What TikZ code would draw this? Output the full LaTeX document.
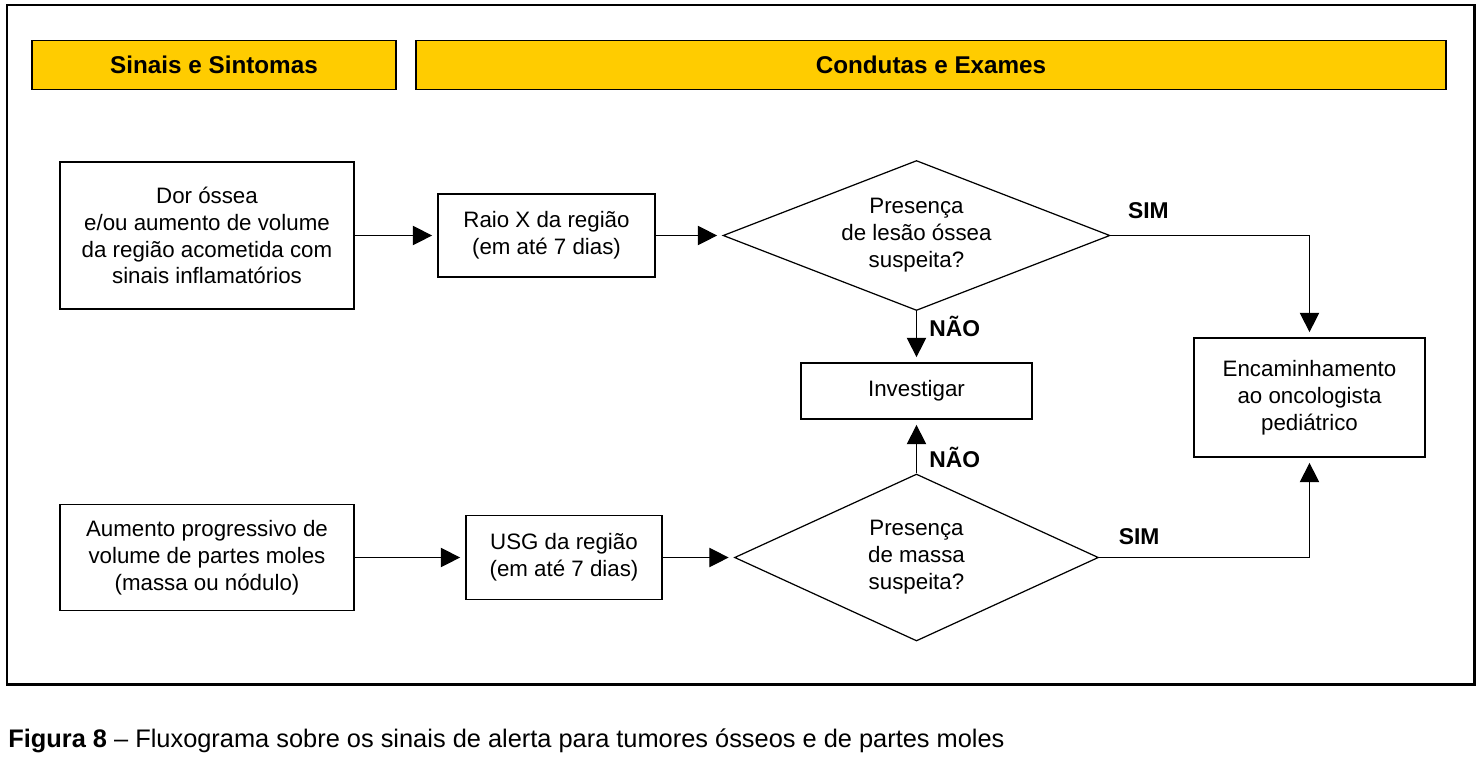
\documentclass[tikz,border=0pt]{standalone}
\usepackage{fontspec}
\setmainfont{Liberation Sans}
\usetikzlibrary{shapes.geometric,arrows.meta}
\definecolor{headyellow}{HTML}{FFCC00}
\tikzset{every node/.style={font=\fontsize{12.7}{15.3}\selectfont, align=center},
    headbox/.style={draw, fill=headyellow, line width=0.7pt, inner sep=0pt,
        minimum height=0.98cm, font=\bfseries\fontsize{13.8}{16}\selectfont},
    procbox/.style={draw, line width=0.7pt, inner sep=0pt},
    decision/.style={draw, diamond, line width=0.7pt, inner sep=0pt},
    flow/.style={line width=0.7pt, -{Triangle[length=11pt,width=11pt]}, shorten >=3pt},
    answer/.style={font=\bfseries\fontsize{13}{15}\selectfont, inner sep=1pt},
    x=0.02cm, y=-0.02cm}

\begin{document}
\begin{tikzpicture}
\useasboundingbox (0,0) rectangle (1482,765);
\draw[line width=1.7pt] (7,5) rectangle (1474,684);
% headers
\node[headbox, minimum width=7.28cm] (sinais) at (214,65) {Sinais e Sintomas};
\node[headbox, minimum width=20.6cm] (condutas) at (931,65) {Condutas e Exames};
% upper row
\node[procbox, minimum width=5.88cm, minimum height=2.94cm] (dor) at (207,235.5)
    {Dor óssea\\e/ou aumento de volume\\da região acometida com\\sinais inflamatórios};
\node[procbox, minimum width=4.34cm, minimum height=1.66cm] (raio) at (546.5,235.5)
    {Raio X da região\\(em até 7 dias)};
\node[decision, aspect=2.58, minimum width=7.74cm, minimum height=3cm] (lesao) at (916.5,235.5)
    {Presença\\de lesão óssea\\suspeita?};
% middle
\node[procbox, minimum width=4.62cm, minimum height=1.12cm] (invest) at (916.5,391) {Investigar};
\node[procbox, minimum width=4.62cm, minimum height=2.38cm] (encam) at (1309.5,397.5)
    {Encaminhamento\\ao oncologista\\pediátrico};
% lower row
\node[procbox, minimum width=5.88cm, minimum height=2.12cm] (aumento) at (207,557.5)
    {Aumento progressivo de\\volume de partes moles\\(massa ou nódulo)};
\node[procbox, minimum width=3.92cm, minimum height=1.68cm] (usg) at (564,557.5)
    {USG da região\\(em até 7 dias)};
\node[decision, aspect=2.18, minimum width=7.28cm, minimum height=3.34cm] (massa) at (916.5,557.5)
    {Presença\\de massa\\suspeita?};
% connectors
\draw[flow] (dor) -- (raio);
\draw[flow] (raio) -- (lesao);
\draw[flow] (lesao.south) -- node[answer, anchor=west, pos=0.3, xshift=6pt] {NÃO} (invest.north);
\draw[flow] (lesao.east) -| node[answer, anchor=south, pos=0.095, yshift=8pt] {SIM} (encam.north);
\draw[flow] (aumento) -- (usg);
\draw[flow] (usg) -- (massa);
\draw[flow] (massa.north) -- node[answer, anchor=west, pos=0.3, xshift=6pt] {NÃO} (invest.south);
\draw[flow] (massa.east) -| node[answer, anchor=south, pos=0.095, yshift=6pt] {SIM} (encam.south);
% caption
\node[anchor=base west, inner sep=0pt, font=\fontsize{14.45}{17}\selectfont] (legenda) at (8,747)
    {\textbf{Figura 8} – Fluxograma sobre os sinais de alerta para tumores ósseos e de partes moles};
\end{tikzpicture}
\end{document}
